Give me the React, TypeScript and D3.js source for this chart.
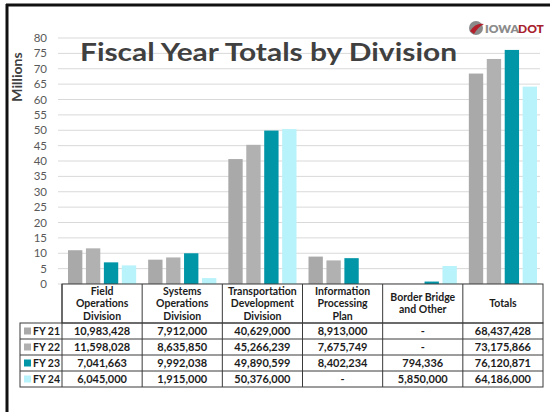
import React from "react";
import * as d3 from "d3";

const categories = [
  ["Field", "Operations", "Division"],
  ["Systems", "Operations", "Division"],
  ["Transportation", "Development", "Division"],
  ["Information", "Processing", "Plan"],
  ["Border Bridge", "and Other"],
  ["Totals"],
];
const seriesNames = ["FY 21", "FY 22", "FY 23", "FY 24"];
const fy21 = [10983428, 7912000, 40629000, 8913000, 0, 68437428];
const fy22 = [11598028, 8635850, 45266239, 7675749, 0, 73175866];
const fy23 = [7041663, 9992038, 49890599, 8402234, 794336, 76120871];
const fy24 = [6045000, 1915000, 50376000, 0, 5850000, 64186000];
const yTicks = [0, 5, 10, 15, 20, 25, 30, 35, 40, 45, 50, 55, 60, 65, 70, 75, 80];
const colors = ["#a9a9a9", "#b1b1b1", "#0096a8", "#b8f2fa"];

const W = 550;
const H = 412;
const FONT = "Lato, 'Open Sans', sans-serif";

export default function App() {
  const series = [fy21, fy22, fy23, fy24];
  const x = d3.scaleBand<number>().domain(d3.range(categories.length)).range([62, 543]);
  const inner = d3
    .scaleBand<number>()
    .domain(d3.range(seriesNames.length))
    .range([6, x.bandwidth() - 6])
    .paddingInner(0.2);
  const y = d3.scaleLinear().domain([0, 80]).range([284, 38]);
  const fmt = d3.format(",");
  const headTop = 284;
  const headBottom = 323;
  const rowH = 16;
  const tableLeft = 20;
  const tableRight = 543;
  const lineColor = "#3a3a3a";

  return (
    <svg width={W} height={H} style={{ display: "block", position: "absolute", left: 0, top: 0 }}>
      <rect x={0} y={0} width={W} height={H} fill="#fff" />
      {/* slide frame */}
      <line x1={6} y1={5} x2={W} y2={5} stroke="#111" strokeWidth={3} />
      <line x1={7} y1={4} x2={7} y2={H} stroke="#111" strokeWidth={3} />

      {/* logo */}
      <g>
        <circle cx={476} cy={28} r={7} fill="#8a8a8a" />
        <path d="M470,31 Q476,22 484,24 Q478,27 474,34 Z" fill="#b3202c" />
        <text x={485} y={33} fontFamily={FONT} fontWeight={800} fontSize={12} fill="#8c8c8c">IOWA</text>
        <text x={518} y={33} fontFamily={FONT} fontWeight={900} fontSize={12} fill="#a8202b">DOT</text>
      </g>

      {/* gridlines */}
      {yTicks.map((t) => (
        <line key={t} x1={58} x2={540} y1={y(t)} y2={y(t)} stroke="#d9d9d9" strokeWidth={1} />
      ))}
      {/* tick labels */}
      {yTicks.map((t) => (
        <text key={t} x={47} y={y(t)} dy="0.35em" textAnchor="end" fontFamily={FONT} fontSize={11.5} fill="#595959">
          {t}
        </text>
      ))}
      <text
        transform={`translate(22,77) rotate(-90)`}
        textAnchor="middle"
        fontFamily={FONT}
        fontWeight={700}
        fontSize={14}
        fill="#404040"
      >
        Millions
      </text>

      {/* bars */}
      {categories.map((_, ci) => (
        <g key={ci} transform={`translate(${x(ci)},0)`}>
          {series.map((s, si) => {
            const v = s[ci] / 1e6;
            return (
              <rect
                key={si}
                x={inner(si)}
                y={y(v)}
                width={inner.bandwidth()}
                height={y(0) - y(v)}
                fill={colors[si]}
              />
            );
          })}
        </g>
      ))}

      {/* title */}
      <text x={80} y={61} fontFamily={FONT} fontWeight={700} fontSize={25} fill="#404040" textLength={377} lengthAdjust="spacingAndGlyphs">
        Fiscal Year Totals by Division
      </text>

      {/* table */}
      <g fontFamily={FONT} fontWeight={700} fill="#1c1c1c">
        <rect x={62} y={headTop} width={tableRight - 62} height={headBottom - headTop} fill="#fff" stroke={lineColor} />
        {categories.map((lines, ci) => {
          const cx = (x(ci) as number) + x.bandwidth() / 2;
          const cy = (headTop + headBottom) / 2;
          const lh = 12.5;
          const start = cy - ((lines.length - 1) * lh) / 2;
          return (
            <g key={ci}>
              {ci > 0 && (
                <line x1={x(ci)} x2={x(ci)} y1={headTop} y2={headBottom + rowH * 4} stroke={lineColor} />
              )}
              {lines.map((l, li) => (
                <text key={li} x={cx} y={start + li * lh} dy="0.35em" textAnchor="middle" fontSize={10.5}>
                  {l}
                </text>
              ))}
            </g>
          );
        })}
        <rect x={tableLeft} y={headBottom} width={tableRight - tableLeft} height={rowH * 4} fill="none" stroke={lineColor} />
        <line x1={62} x2={62} y1={headTop} y2={headBottom + rowH * 4} stroke={lineColor} />
        {seriesNames.map((name, si) => {
          const ry = headBottom + si * rowH;
          return (
            <g key={si}>
              {si > 0 && <line x1={tableLeft} x2={tableRight} y1={ry} y2={ry} stroke={lineColor} />}
              <rect x={24} y={ry + rowH / 2 - 3.5} width={7} height={7} fill={colors[si]} />
              <text x={33} y={ry + rowH / 2} dy="0.35em" fontSize={10.5}>
                {name}
              </text>
              {categories.map((_, ci) => (
                <text
                  key={ci}
                  x={(x(ci) as number) + x.bandwidth() / 2}
                  y={ry + rowH / 2}
                  dy="0.35em"
                  textAnchor="middle"
                  fontSize={11}
                >
                  {series[si][ci] ? fmt(series[si][ci]) : "-"}
                </text>
              ))}
            </g>
          );
        })}
      </g>
    </svg>
  );
}
